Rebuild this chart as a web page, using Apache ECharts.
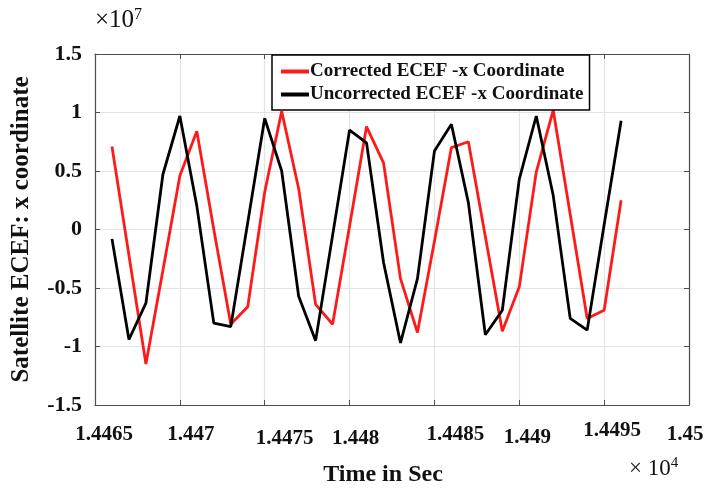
<!DOCTYPE html>
<html>
<head>
<meta charset="utf-8">
<script src="https://cdn.jsdelivr.net/npm/echarts@6/dist/echarts.min.js"></script>
<style>
  html, body { margin: 0; padding: 0; background: #fff; }
  #chart { width: 707px; height: 488px; }
</style>
</head>
<body>
<div id="chart"></div>
<script>
// Sample times (s) and ECEF x coordinate (units of 10^7 m)
const timeSec = [14466, 14467, 14468, 14469, 14470, 14471, 14472, 14473, 14474, 14475,
                 14476, 14477, 14478, 14479, 14480, 14481, 14482, 14483, 14484, 14485,
                 14486, 14487, 14488, 14489, 14490, 14491, 14492, 14493, 14494, 14495, 14496];
const correctedX = [0.71, -0.22, -1.15, -0.35, 0.46, 0.84, 0.00, -0.81, -0.66, 0.32,
                    1.01, 0.35, -0.64, -0.81, 0.03, 0.88, 0.57, -0.42, -0.88, -0.10,
                    0.70, 0.75, -0.06, -0.87, -0.49, 0.49, 1.02, 0.13, -0.76, -0.69, 0.25];
const uncorrectedX = [-0.08, -0.94, -0.63, 0.47, 0.97, 0.20, -0.80, -0.83, 0.06, 0.95,
                      0.50, -0.57, -0.95, -0.05, 0.85, 0.74, -0.28, -0.97, -0.42, 0.67,
                      0.90, 0.23, -0.90, -0.69, 0.43, 0.97, 0.29, -0.76, -0.86, 0.04, 0.93];
const seriesNames = ['Corrected ECEF -x Coordinate', 'Uncorrected ECEF -x Coordinate'];

const FONT = '"Liberation Serif", "DejaVu Serif", serif';
const pairs = (xs, ys) => xs.map((x, i) => [x, ys[i]]);

// Per-tick horizontal / vertical nudges of the time labels (px)
const tickNudge = {
  14465: [9, 0], 14470: [11, 0], 14475: [20, 4], 14480: [6, 4],
  14485: [21, 0], 14490: [8, 3], 14495: [8, -4], 14500: [-4, 0]
};
const labelRich = {};
Object.keys(tickNudge).forEach(k => {
  const [dx, dy] = tickNudge[k];
  labelRich['t' + k] = {
    fontFamily: FONT, fontWeight: 'bold', fontSize: 21, color: '#111',
    padding: [6 + dy, dx < 0 ? -dx * 2 : 0, 0, dx > 0 ? dx * 2 : 0]
  };
});

const chart = echarts.init(document.getElementById('chart'), null, { renderer: 'canvas' });

const boxAxisLine = { show: true, onZero: false, lineStyle: { color: '#4d4d4d', width: 1.2 } };
const innerTick = { show: true, inside: true, length: 5, lineStyle: { color: '#4d4d4d' } };

chart.setOption({
  backgroundColor: '#ffffff',
  animation: false,
  grid: { left: 95, right: 18, top: 54, bottom: 83, containLabel: false, outerBoundsMode: 'none' },
  legend: {
    data: seriesNames,
    orient: 'vertical',
    left: 272,
    top: 55,
    icon: 'rect',
    itemWidth: 28,
    itemHeight: 4,
    itemGap: 4,
    padding: [7, 6, 6, 9],
    backgroundColor: '#ffffff',
    borderColor: '#000000',
    borderWidth: 1.5,
    borderRadius: 0,
    textStyle: { fontFamily: FONT, fontWeight: 'bold', fontSize: 19, color: '#111', padding: [0, 0, 0, -4] }
  },
  xAxis: [{
    type: 'value',
    min: 14465, max: 14500, interval: 5,
    axisLine: boxAxisLine,
    axisTick: innerTick,
    splitLine: { show: true, lineStyle: { color: '#e3e3e3', width: 1.2 } },
    axisLabel: {
      margin: 13,
      fontFamily: FONT, fontWeight: 'bold', fontSize: 21, color: '#111',
      formatter: v => '{t' + v + '|' + String(+(v / 1e4).toFixed(4)) + '}',
      rich: labelRich
    },
    name: 'Time in Sec',
    nameLocation: 'middle',
    nameGap: 58,
    nameTextStyle: { fontFamily: FONT, fontWeight: 'bold', fontSize: 24, color: '#111', padding: [0, 18, 0, 0] }
  }, {
    type: 'value', position: 'top',
    min: 14465, max: 14500, interval: 5,
    axisLine: boxAxisLine, axisTick: innerTick,
    axisLabel: { show: false }, splitLine: { show: false }
  }],
  yAxis: [{
    type: 'value',
    min: -1.5, max: 1.5, interval: 0.5,
    axisLine: boxAxisLine,
    axisTick: innerTick,
    splitLine: { show: true, lineStyle: { color: '#e3e3e3', width: 1.2 } },
    axisLabel: {
      margin: 13,
      fontFamily: FONT, fontWeight: 'bold', fontSize: 22, color: '#111',
      formatter: v => String(+v.toFixed(1))
    },
    name: 'Satellite ECEF: x coordinate',
    nameLocation: 'middle',
    nameGap: 61,
    nameRotate: 90,
    nameTextStyle: { fontFamily: FONT, fontWeight: 'bold', fontSize: 25, color: '#111' }
  }, {
    type: 'value', position: 'right',
    min: -1.5, max: 1.5, interval: 0.5,
    axisLine: boxAxisLine, axisTick: innerTick,
    axisLabel: { show: false }, splitLine: { show: false }
  }],
  series: [{
    name: seriesNames[0],
    type: 'line',
    data: pairs(timeSec, correctedX),
    showSymbol: false,
    lineStyle: { color: '#ff1a1a', width: 2.8 },
    itemStyle: { color: '#ff1a1a' },
    z: 3
  }, {
    name: seriesNames[1],
    type: 'line',
    data: pairs(timeSec, uncorrectedX),
    showSymbol: false,
    lineStyle: { color: '#000000', width: 2.8 },
    itemStyle: { color: '#000000' },
    z: 4
  }],
  graphic: [{
    type: 'text',
    left: 95, top: 7,
    style: {
      text: '×10{s|7}',
      fontFamily: FONT, fontSize: 25, fill: '#111',
      rich: { s: { fontFamily: FONT, fontSize: 16, verticalAlign: 'top', padding: [0, 0, 10, 0] } }
    }
  }, {
    type: 'text',
    left: 629, top: 456,
    style: {
      text: '× 10{s|4}',
      fontFamily: FONT, fontSize: 23, fill: '#111',
      rich: { s: { fontFamily: FONT, fontSize: 15, verticalAlign: 'top', padding: [0, 0, 10, 0] } }
    }
  }]
});
</script>
</body>
</html>
